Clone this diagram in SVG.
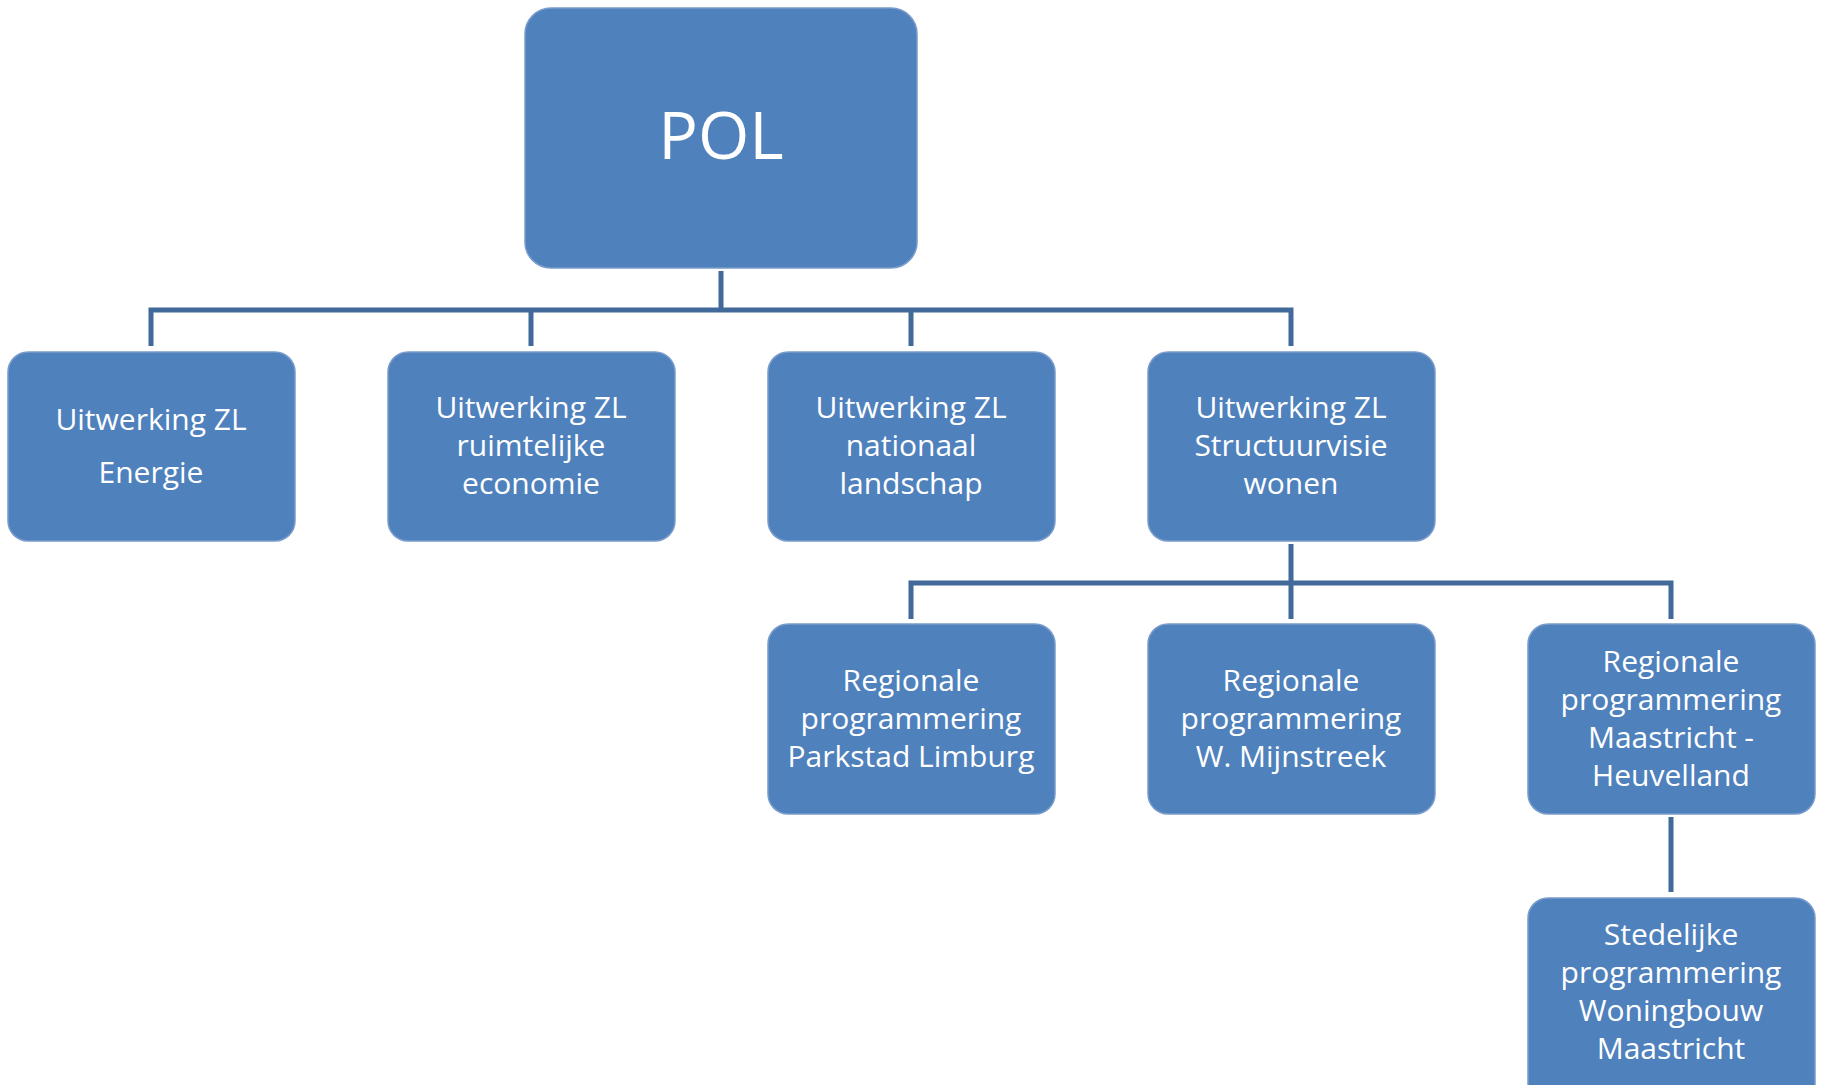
<svg xmlns="http://www.w3.org/2000/svg" width="1822" height="1085" viewBox="0 0 1822 1085">
<style>
.box{fill:#4F81BD;stroke:#7A9CCB;stroke-width:1.5}
.t{fill:#FFFFFF;font-family:"Open Sans","Noto Sans",sans-serif;font-size:30px;text-anchor:middle}
.big{font-size:66px}
.c{fill:none;stroke:#41699A;stroke-width:5}
</style>
<rect width="1822" height="1085" fill="#FFFFFF"/>
<g id="connectors">
<path class="c" d="M721,271 V310 M151,346 V310 H1291 V346 M531,310 V346 M911,310 V346"/>
<path class="c" d="M1291,544 V619 M911,619 V583 H1671 V619 M1671,817 V892"/>
</g>
<g id="pol"><rect class="box" x="525" y="8" width="392" height="260" rx="26"/><text class="t big" x="721" y="159">POL</text></g>
<g id="energie"><rect class="box" x="8" y="352" width="287" height="189" rx="20"/><text class="t" x="151" y="430">Uitwerking ZL</text><text class="t" x="151" y="483">Energie</text></g>
<g id="economie"><rect class="box" x="388" y="352" width="287" height="189" rx="20"/><text class="t" x="531" y="418">Uitwerking ZL</text><text class="t" x="531" y="456">ruimtelijke</text><text class="t" x="531" y="494">economie</text></g>
<g id="landschap"><rect class="box" x="768" y="352" width="287" height="189" rx="20"/><text class="t" x="911" y="418">Uitwerking ZL</text><text class="t" x="911" y="456">nationaal</text><text class="t" x="911" y="494">landschap</text></g>
<g id="wonen"><rect class="box" x="1148" y="352" width="287" height="189" rx="20"/><text class="t" x="1291" y="418">Uitwerking ZL</text><text class="t" x="1291" y="456">Structuurvisie</text><text class="t" x="1291" y="494">wonen</text></g>
<g id="parkstad"><rect class="box" x="768" y="624" width="287" height="190" rx="20"/><text class="t" x="911" y="691">Regionale</text><text class="t" x="911" y="729">programmering</text><text class="t" x="911" y="767">Parkstad Limburg</text></g>
<g id="mijnstreek"><rect class="box" x="1148" y="624" width="287" height="190" rx="20"/><text class="t" x="1291" y="691">Regionale</text><text class="t" x="1291" y="729">programmering</text><text class="t" x="1291" y="767">W. Mijnstreek</text></g>
<g id="heuvelland"><rect class="box" x="1528" y="624" width="287" height="190" rx="20"/><text class="t" x="1671" y="672">Regionale</text><text class="t" x="1671" y="710">programmering</text><text class="t" x="1671" y="748">Maastricht -</text><text class="t" x="1671" y="786">Heuvelland</text></g>
<g id="stedelijk"><rect class="box" x="1528" y="898" width="287" height="210" rx="20"/><text class="t" x="1671" y="945">Stedelijke</text><text class="t" x="1671" y="983">programmering</text><text class="t" x="1671" y="1021">Woningbouw</text><text class="t" x="1671" y="1059">Maastricht</text></g>
</svg>
